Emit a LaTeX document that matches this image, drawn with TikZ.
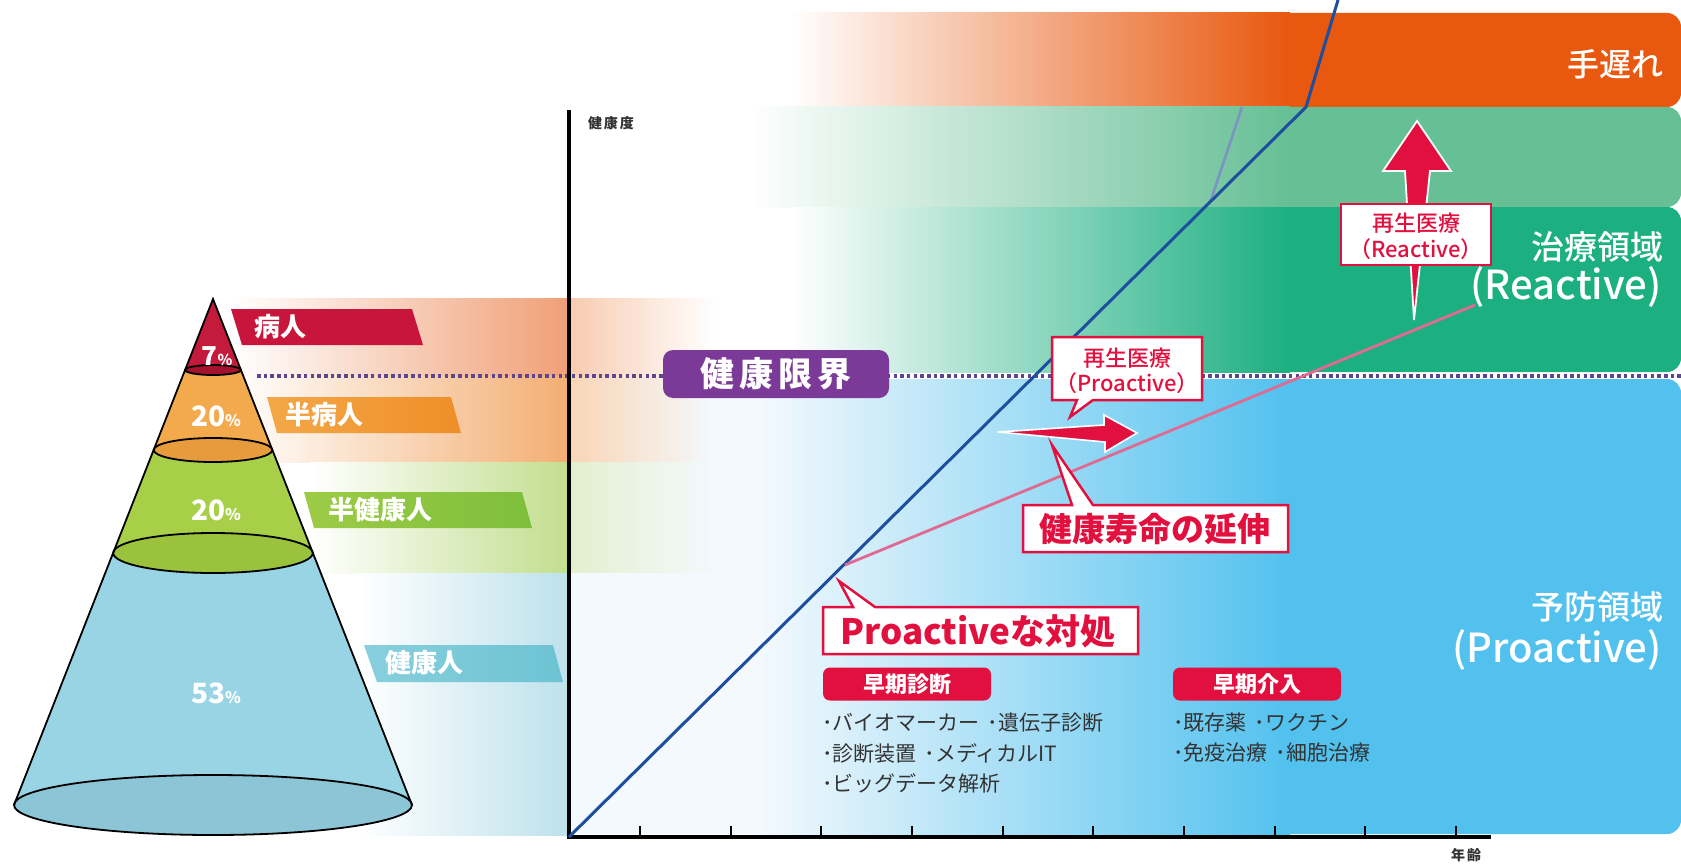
\documentclass[tikz,border=0pt]{standalone}
\usepackage{fontspec}
\setmainfont{Noto Sans CJK JP}
\newfontfamily\med{Noto Sans CJK JP Medium}
\newcommand\fs[1]{\fontsize{#1}{#1}\selectfont}
\newcommand\hgrad[7]{%
  \foreach \i in {1,...,#7}{%
    \pgfmathsetmacro\xa{#1+(#2-#1)*(\i-1)/#7}%
    \pgfmathsetmacro\xb{#1+(#2-#1)*\i/#7+0.6}%
    \pgfmathsetmacro\pp{100*(1-(\i-0.5)/#7)}%
    \fill[#5!\pp!#6] (\xa,#3) rectangle (\xb,#4);
  }}
\definecolor{cOr}{HTML}{E8580E}
\definecolor{cLG}{HTML}{66BF95}
\definecolor{cDG}{HTML}{1CAF80}
\definecolor{cBl}{HTML}{52C1EE}
\definecolor{cBlW}{HTML}{F3F9FD}
\definecolor{cCrim}{HTML}{E2103F}
\definecolor{cRedTag}{HTML}{C8153B}
\definecolor{cPur}{HTML}{7B3A98}
\definecolor{cDot}{HTML}{5E4590}
\definecolor{cLine}{HTML}{1D4F9E}
\definecolor{cLineB}{HTML}{7D93C6}
\definecolor{cPink}{HTML}{E06A92}
\definecolor{cTxt}{HTML}{333333}
\definecolor{cConeR}{HTML}{C41A3B}
\definecolor{cConeRd}{HTML}{A5122E}
\definecolor{cConeO}{HTML}{F2AA4C}
\definecolor{cConeOd}{HTML}{E69C3C}
\definecolor{cConeG}{HTML}{A8CF48}
\definecolor{cConeGd}{HTML}{9BC23D}
\definecolor{cConeB}{HTML}{98D4E4}
\definecolor{cConeBd}{HTML}{8BC5D6}
\definecolor{tOrL}{HTML}{F3A847}
\definecolor{tOrR}{HTML}{EF8E29}
\definecolor{tGnL}{HTML}{9DCB47}
\definecolor{tGnR}{HTML}{7DBF3A}
\definecolor{tBlL}{HTML}{88CFDD}
\definecolor{tBlR}{HTML}{6DC3D3}
\definecolor{pkL}{HTML}{F09F76}
\definecolor{pkR}{HTML}{F8CBB0}
\definecolor{pkLb}{HTML}{F3AE72}
\definecolor{pkRb}{HTML}{F9D5B5}
\definecolor{gnL}{HTML}{C2DE8E}
\definecolor{gnR}{HTML}{E3EFCE}
\definecolor{blL}{HTML}{BDE1EC}
\tikzset{
  callout/.style={fill=white, draw=cCrim, line width=2.5pt, line join=miter},
  tagtext/.style={anchor=west, inner sep=0pt, text=white, font=\bfseries\fs{26}},
  pct/.style={inner sep=0pt, text=white, font=\bfseries\fs{28}},
  bigw/.style={anchor=east, inner sep=0pt, text=white},
  redbox/.style={fill=cCrim, rounded corners=7pt, minimum width=168pt, minimum height=33pt, inner sep=0pt, text=white, font=\bfseries\fs{22}},
  bullet/.style={anchor=west, inner sep=0pt, text=cTxt, font=\fs{21}},
  calltext/.style={inner sep=0pt, text=cCrim},
  conel/.style={draw=black, line width=1.8pt},
  axislbl/.style={inner sep=0pt, text=cTxt, font=\bfseries\fs{14}},
}
\begin{document}
\begin{tikzpicture}[x=1pt,y=-1pt]
\useasboundingbox (0,0) rectangle (1681,864);
\fill[white] (0,0) rectangle (1681,864);

% ---------- chart bands ----------
\fill[cOr, rounded corners=14pt] (1260,13) rectangle (1681,107);
\shade[left color=white, right color=cOr] (790,13) rectangle (1290,107);
\fill[cLG, rounded corners=14pt] (1260,107) rectangle (1681,207);
\shade[left color=white, right color=cLG] (750,107) rectangle (1290,207);
\fill[cDG, rounded corners=14pt] (1260,207) rectangle (1681,372);
\shade[left color=white, right color=cDG] (790,207) rectangle (1290,372);
\fill[cBl, rounded corners=14pt] (1260,379) rectangle (1681,834);
\shade[left color=cBlW, right color=cBl] (760,379) rectangle (1290,834);
\fill[cBlW] (569,379) rectangle (760,834);

% ---------- left bands ----------
\shade[left color=white, right color=pkL] (232,298) rectangle (569,376);
\hgrad{569}{715}{298}{376}{pkR}{white}{40}
\shade[left color=white, right color=pkLb] (232,376) rectangle (569,462);
\hgrad{569}{715}{376}{462}{pkRb}{cBlW}{40}
\shade[left color=white, right color=gnL] (310,462) rectangle (569,573);
\hgrad{569}{715}{462}{573}{gnR}{cBlW}{40}
\shade[left color=white, right color=blL] (357,573) rectangle (569,835);

% ---------- tags ----------
\fill[cRedTag] (231,309) -- (412,309) -- (423,345) -- (242,345) -- cycle;
\shade[left color=tOrL, right color=tOrR] (267,397) -- (451,397) -- (461,433) -- (277,433) -- cycle;
\shade[left color=tGnL, right color=tGnR] (304,492) -- (522,492) -- (532,528) -- (314,528) -- cycle;
\shade[left color=tBlL, right color=tBlR] (364,645) -- (553,645) -- (563,682) -- (377,682) -- cycle;
\node[tagtext] (t1) at (254,327) {病人};
\node[tagtext] (t2) at (285,415) {半病人};
\node[tagtext] (t3) at (328,510) {半健康人};
\node[tagtext] (t4) at (385,663) {健康人};

% ---------- cone ----------
\fill[cConeB] (113.2,553) -- (312.8,553) -- (412,805) -- (14,805) -- cycle;
\filldraw[fill=cConeBd, conel] (213,805) ellipse [x radius=199, y radius=30];
\fill[cConeG] (153.7,450) -- (272.3,450) -- (312.8,553) -- (113.2,553) -- cycle;
\filldraw[fill=cConeGd, conel] (213,553) ellipse [x radius=99.8, y radius=20];
\fill[cConeO] (185.1,370) -- (240.9,370) -- (272.3,450) -- (153.7,450) -- cycle;
\filldraw[fill=cConeOd, conel] (213,450) ellipse [x radius=59.3, y radius=12];
\fill[cConeR] (213,299) -- (240.9,370) -- (185.1,370) -- cycle;
\filldraw[fill=cConeRd, conel] (213,370) ellipse [x radius=27.9, y radius=5];
\coordinate (apex) at (213,299);
\coordinate (bl) at (14,805);
\coordinate (br) at (412,805);
\draw[conel, line join=miter] (bl) -- (apex) -- (br);
\node[pct, font=\bfseries\fs{26}] (p1) at (217,356) {7{\fs{15}\%}};
\node[pct] (p2) at (216,416) {20{\fs{16}\%}};
\node[pct] (p3) at (216,510) {20{\fs{16}\%}};
\node[pct] (p4) at (216,693) {53{\fs{16}\%}};

% ---------- dotted limit line ----------
\coordinate (dl) at (257,376);
\coordinate (dr) at (1681,376);
\draw[cDot, line width=3.2pt, dash pattern=on 3.5pt off 3.2pt] (dl) -- (dr);

% ---------- axes ----------
\coordinate (O) at (569,837);
\coordinate (ytop) at (569,110);
\coordinate (xend) at (1491,837);
\draw[black, line width=4pt] (ytop) -- (O) -- (xend);
\foreach \k in {0,...,9} {
  \draw[black, line width=2pt] ({640+90.65*\k},837) -- ({640+90.65*\k},826);
}
\node[axislbl] (ylab) at (611,123) {健\kern2pt 康\kern2pt 度};
\node[axislbl] (xlab) at (1466,855) {年\kern2pt 齢};

% ---------- curves ----------
\coordinate (b1) at (1306,107);
\coordinate (b2) at (1338,0);
\coordinate (k1) at (1210,203);
\coordinate (k2) at (1242,107);
\coordinate (q1) at (845,565);
\coordinate (q2) at (1475,305);
\draw[cLineB, line width=2.6pt] (k1) -- (k2);
\draw[cLine, line width=3pt, line join=round] (O) -- (b1) -- (b2);
\draw[cPink, line width=2.8pt] (q1) -- (q2);

% ---------- arrows ----------
\fill[cCrim, draw=white, line width=1.8pt, line join=miter]
  (1417,121) -- (1451,171) -- (1430,171) -- (1414,320) -- (1405,171) -- (1383,171) -- cycle;
\fill[cCrim, draw=white, line width=1.6pt, line join=miter]
  (998,432) -- (1104,425) -- (1104,415) -- (1137,433) -- (1105,452) -- (1105,442) -- cycle;

% ---------- callouts ----------
\draw[callout] (1341,204) rectangle (1491,265);
\node[calltext, font=\med\fs{22}] (rr1) at (1416,223) {再生医療};
\node[calltext, font=\med\fs{22}] (rr2) at (1416,249) {（Reactive）};

\draw[callout] (1052,337) -- (1202,337) -- (1202,400) -- (1093,400) -- (1070,417) -- (1077,400) -- (1052,400) -- cycle;
\node[calltext, font=\med\fs{22}] (rp1) at (1127,358) {再生医療};
\node[calltext, font=\med\fs{22}] (rp2) at (1127,383) {（Proactive）};

\draw[callout] (1023,505) -- (1072,505) -- (1052,445) -- (1093,505) -- (1288,505) -- (1288,552) -- (1023,552) -- cycle;
\node[calltext, font=\bfseries\fs{33}] (ext) at (1155,529) {健康寿命の延伸};

\draw[callout] (823,607) -- (853,607) -- (839,581) -- (875,607) -- (1138,607) -- (1138,654) -- (823,654) -- cycle;
\node[calltext, font=\bfseries\fs{35}] (pro) at (978,631) {Proactiveな対処};

% ---------- limit box ----------
\node[fill=cPur, rounded corners=10pt, minimum width=226pt, minimum height=48pt, inner sep=0pt,
      text=white, font=\bfseries\fs{34}] (lim) at (776,374) {健\kern5pt 康\kern5pt 限\kern5pt 界};

% ---------- red boxes & bullets ----------
\node[redbox] (ed) at (907,684) {早期診断};
\node[redbox] (ei) at (1257,684) {早期介入};
\node[bullet] (d1) at (822,723) {･バイオマーカー\hspace{8pt}･遺伝子診断};
\node[bullet] (d2) at (822,753) {･診断装置\hspace{8pt}･メディカルIT};
\node[bullet] (d3) at (822,783) {･ビッグデータ解析};
\node[bullet] (i1) at (1173,723) {･既存薬\hspace{8pt}･ワクチン};
\node[bullet] (i2) at (1173,753) {･免疫治療\hspace{8pt}･細胞治療};

% ---------- region labels ----------
\node[bigw, font=\med\fs{32}] (late) at (1664,64) {手遅れ};
\node[bigw, font=\med\fs{33}] (treat1) at (1664,247) {治療領域};
\node[bigw, font=\med\fs{40}] (treat2) at (1662,287) {(Reactive)};
\node[bigw, font=\med\fs{33}] (prev1) at (1664,607) {予防領域};
\node[bigw, font=\med\fs{40}] (prev2) at (1662,650) {(Proactive)};
\end{tikzpicture}
\end{document}
